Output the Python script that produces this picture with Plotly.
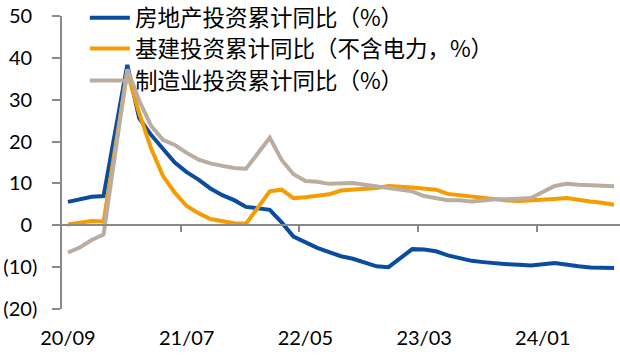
import plotly.graph_objects as go

# Monthly categories 2020/09 - 2024/07 (January has no separate release)
months = []
for y in range(2020, 2025):
    for m in range(1, 13):
        if (y == 2020 and m < 9) or (y == 2024 and m > 7):
            continue
        months.append(f"{str(y)[2:]}/{m:02d}")

N = None
real_estate = [5.6, 6.3, 6.8, 7.0,
               N, 38.3, 25.6, 21.6, 18.3, 15.0, 12.7, 10.9, 8.8, 7.2, 6.0, 4.4,
               N, 3.7, 0.7, -2.7, -4.0, -5.4, -6.4, -7.4, -8.0, -8.8, -9.8, -10.0,
               N, -5.7, -5.8, -6.2, -7.2, -7.9, -8.5, -8.8, -9.1, -9.3, -9.4, -9.6,
               N, -9.0, -9.5, -9.8, -10.1, -10.1, -10.2]
infra = [0.2, 0.7, 1.0, 0.9,
         N, 36.6, 26.8, 18.4, 11.8, 7.8, 4.6, 2.9, 1.5, 1.0, 0.5, 0.4,
         N, 8.1, 8.5, 6.5, 6.7, 7.1, 7.4, 8.3, 8.6, 8.7, 8.9, 9.4,
         N, 9.0, 8.8, 8.5, 7.5, 7.2, 6.8, 6.4, 6.2, 5.9, 5.8, 5.9,
         N, 6.3, 6.5, 6.0, 5.7, 5.4, 4.9]
manufacturing = [-6.5, -5.3, -3.5, -2.2,
                 N, 37.3, 29.8, 23.8, 20.4, 19.2, 17.3, 15.7, 14.8, 14.2, 13.7, 13.5,
                 N, 20.9, 15.6, 12.2, 10.6, 10.4, 9.9, 10.0, 10.1, 9.7, 9.3, 9.1,
                 N, 8.1, 7.0, 6.4, 6.0, 6.0, 5.7, 5.9, 6.2, 6.2, 6.3, 6.5,
                 N, 9.4, 9.9, 9.7, 9.6, 9.5, 9.3]

series_names = ["房地产投资累计同比（%）", "基建投资累计同比（不含电力，%）", "制造业投资累计同比（%）"]
colors = ["#0A4D9F", "#F59C00", "#BAADA0"]

x_tick_labels = ["20/09", "21/07", "22/05", "23/03", "24/01"]
y_tick_vals = [-20, -10, 0, 10, 20, 30, 40, 50]
# accounting-style labels: positives padded so digits align with the negatives' digits
y_tick_text = ["(20)", "(10)", "0\u00a0", "10\u00a0", "20\u00a0", "30\u00a0", "40\u00a0", "50\u00a0"]
y_min, y_max = -20, 50

legend_ids = ["legend", "legend2", "legend3"]

fig = go.Figure()
for i, (name, vals, col) in enumerate(zip(series_names, [real_estate, infra, manufacturing], colors)):
    fig.add_trace(go.Scatter(
        x=months, y=vals, name=name, mode="lines",
        line=dict(color=col, width=4), connectgaps=True,
        legend=legend_ids[i],
        xaxis="x2" if i == 2 else "x",
    ))

axis_grey = "#898989"
tick_font = dict(family="Lato", size=20, color="#000000")
boundary_ticks = [months.index(v) - 0.5 for v in x_tick_labels[1:]]

legend_font = dict(family="Noto Sans CJK SC", size=22.5, color="#000000")
legend_rows = [0.993, 0.888, 0.779]
legend_common = dict(x=0.041, xanchor="left", yanchor="middle",
                     bgcolor="rgba(0,0,0,0)", font=legend_font, itemwidth=40)

fig.update_layout(
    width=620, height=355,
    margin=dict(l=62, r=0, t=16, b=46, autoexpand=False),
    paper_bgcolor="white", plot_bgcolor="white",
    showlegend=True,
    legend=dict(y=legend_rows[0], **legend_common),
    legend2=dict(y=legend_rows[1], **legend_common),
    legend3=dict(y=legend_rows[2], **legend_common),
    xaxis=dict(
        type="category", categoryorder="array", categoryarray=months,
        range=[-0.5, len(months) - 0.5],
        tickmode="array", tickvals=x_tick_labels, ticktext=x_tick_labels,
        ticks="", showline=False, showgrid=False, zeroline=False,
        tickfont=tick_font, ticklabelstandoff=15,
    ),
    xaxis2=dict(
        type="category", categoryorder="array", categoryarray=months,
        overlaying="x", matches="x", anchor="free",
        position=(0 - y_min) / (y_max - y_min),
        tickmode="array", tickvals=boundary_ticks,
        ticks="outside", ticklen=6, tickwidth=1.5, tickcolor=axis_grey,
        showticklabels=False, showline=True, linecolor=axis_grey, linewidth=1.5,
        showgrid=False, zeroline=False,
    ),
    yaxis=dict(
        range=[y_min, y_max], tickmode="array",
        tickvals=y_tick_vals, ticktext=y_tick_text,
        ticks="outside", ticklen=8, tickwidth=1.5, tickcolor=axis_grey,
        showline=True, linecolor=axis_grey, linewidth=1.5,
        showgrid=False, zeroline=False,
        tickfont=tick_font, ticklabelstandoff=11, ticklabeloverflow="allow",
    ),
)

fig.write_html("out.html", config={"displayModeBar": False},
               post_script="document.body.style.margin='0';")
